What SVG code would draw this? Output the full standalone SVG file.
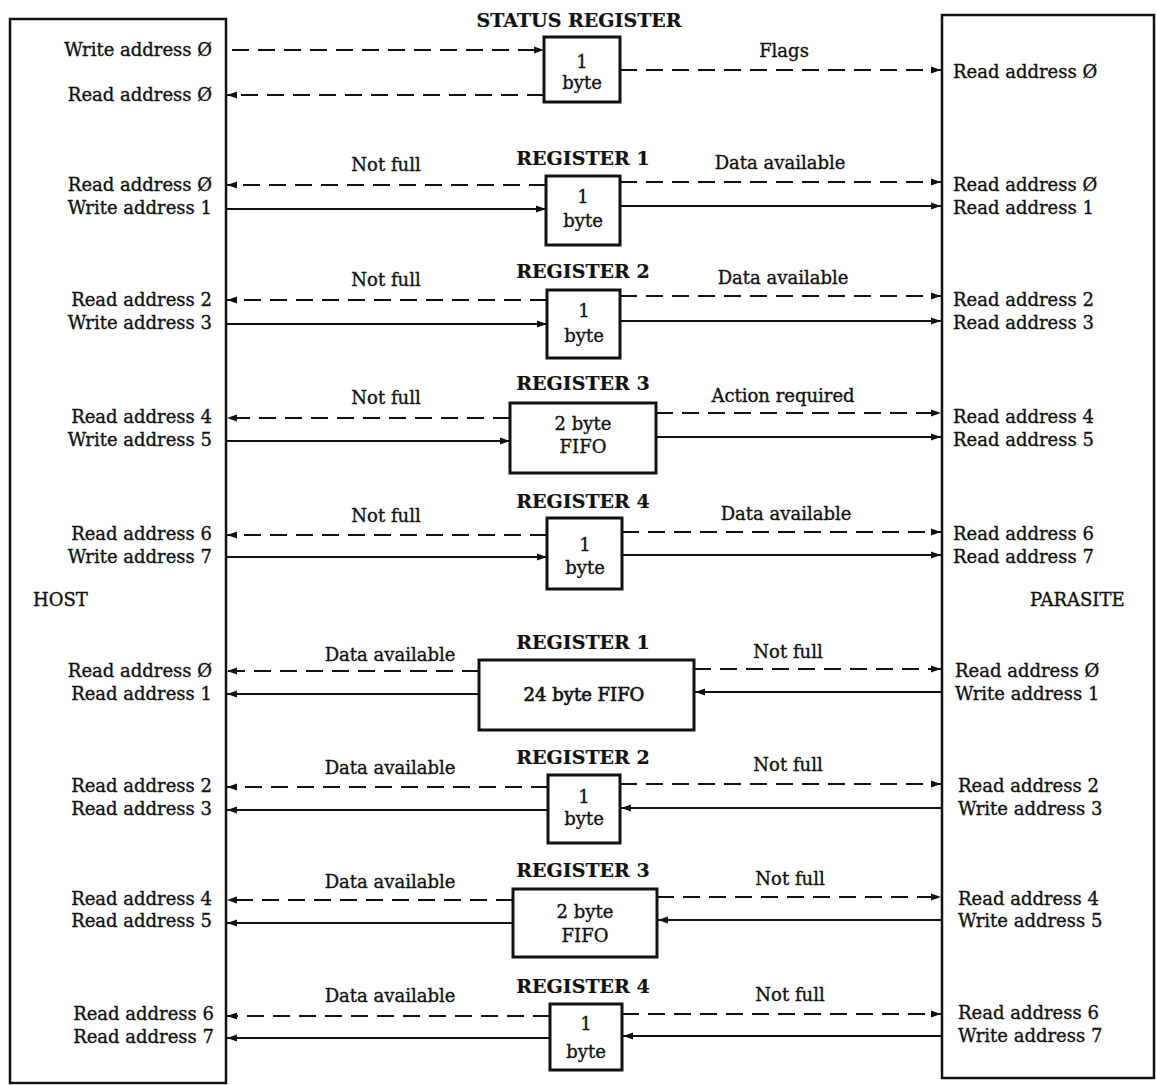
<svg xmlns="http://www.w3.org/2000/svg" width="1157" height="1085" viewBox="0 0 1157 1085">
<style>
text{font-family:"DejaVu Serif","Liberation Serif",serif;font-size:18px;fill:#111;stroke:#111;stroke-width:0.35}
.h{font-weight:bold;text-anchor:middle;font-size:19px;stroke-width:0.2}
.m{text-anchor:middle}
.l{text-anchor:end}
.b{stroke-width:0.7}
.side{fill:none;stroke:#111;stroke-width:2.5}
.box{fill:#fff;stroke:#111;stroke-width:3}
.d{fill:none;stroke:#111;stroke-width:2;stroke-dasharray:17 9}
.s{fill:none;stroke:#111;stroke-width:2}
.a{marker-end:url(#ah)}
</style>
<defs>
<marker id="ah" markerUnits="userSpaceOnUse" markerWidth="11" markerHeight="8" refX="10" refY="4" orient="auto">
<path d="M0,0.5 L10,4 L0,7.5 z" fill="#111"/>
</marker>
</defs>
<rect width="1157" height="1085" fill="#fff"/>

<g id="host">
<rect class="side" x="10" y="19" width="216" height="1064"/>
<text x="33" y="606">HOST</text>
<text class="l" x="212" y="56">Write address Ø</text>
<text class="l" x="212" y="101">Read address Ø</text>
<text class="l" x="212" y="191">Read address Ø</text>
<text class="l" x="212" y="214">Write address 1</text>
<text class="l" x="212" y="306">Read address 2</text>
<text class="l" x="212" y="329">Write address 3</text>
<text class="l" x="212" y="423">Read address 4</text>
<text class="l" x="212" y="446">Write address 5</text>
<text class="l" x="212" y="540">Read address 6</text>
<text class="l" x="212" y="563">Write address 7</text>
<text class="l" x="212" y="677">Read address Ø</text>
<text class="l" x="212" y="700">Read address 1</text>
<text class="l" x="212" y="792">Read address 2</text>
<text class="l" x="212" y="815">Read address 3</text>
<text class="l" x="212" y="905">Read address 4</text>
<text class="l" x="212" y="927">Read address 5</text>
<text class="l" x="214" y="1020">Read address 6</text>
<text class="l" x="214" y="1043">Read address 7</text>
</g>

<g id="parasite">
<rect class="side" x="942" y="15" width="212" height="1063"/>
<text x="1030" y="606">PARASITE</text>
<text x="953" y="78">Read address Ø</text>
<text x="953" y="191">Read address Ø</text>
<text x="953" y="214">Read address 1</text>
<text x="953" y="306">Read address 2</text>
<text x="953" y="329">Read address 3</text>
<text x="953" y="423">Read address 4</text>
<text x="953" y="446">Read address 5</text>
<text x="953" y="540">Read address 6</text>
<text x="953" y="563">Read address 7</text>
<text x="955" y="677">Read address Ø</text>
<text x="955" y="700">Write address 1</text>
<text x="958" y="792">Read address 2</text>
<text x="958" y="815">Write address 3</text>
<text x="958" y="905">Read address 4</text>
<text x="958" y="927">Write address 5</text>
<text x="958" y="1019">Read address 6</text>
<text x="958" y="1042">Write address 7</text>
</g>

<g id="connectors">
<line class="d a" x1="232" y1="50" x2="544" y2="50"/>
<line class="d a" x1="544" y1="95" x2="227" y2="95"/>
<line class="d a" x1="620" y1="70" x2="941" y2="70"/>
<line class="d a" x1="546" y1="185" x2="227" y2="185"/>
<line class="s a" x1="226" y1="209" x2="546" y2="209"/>
<line class="d a" x1="620" y1="182" x2="941" y2="182"/>
<line class="s a" x1="620" y1="206" x2="941" y2="206"/>
<line class="d a" x1="547" y1="300" x2="227" y2="300"/>
<line class="s a" x1="226" y1="324" x2="547" y2="324"/>
<line class="d a" x1="620" y1="296" x2="941" y2="296"/>
<line class="s a" x1="620" y1="321" x2="941" y2="321"/>
<line class="d a" x1="510" y1="418" x2="227" y2="418"/>
<line class="s a" x1="226" y1="441" x2="510" y2="441"/>
<line class="d a" x1="656" y1="413" x2="941" y2="413"/>
<line class="s a" x1="656" y1="437" x2="941" y2="437"/>
<line class="d a" x1="547" y1="535" x2="227" y2="535"/>
<line class="s a" x1="226" y1="557" x2="547" y2="557"/>
<line class="d a" x1="622" y1="532" x2="941" y2="532"/>
<line class="s a" x1="622" y1="555" x2="941" y2="555"/>
<line class="d a" x1="479" y1="671" x2="227" y2="671"/>
<line class="s a" x1="479" y1="694" x2="227" y2="694"/>
<line class="d a" x1="694" y1="669" x2="941" y2="669"/>
<line class="s a" x1="942" y1="692" x2="695" y2="692"/>
<line class="d a" x1="548" y1="787" x2="227" y2="787"/>
<line class="s a" x1="548" y1="810" x2="227" y2="810"/>
<line class="d a" x1="620" y1="784" x2="941" y2="784"/>
<line class="s a" x1="942" y1="808" x2="621" y2="808"/>
<line class="d a" x1="513" y1="900" x2="227" y2="900"/>
<line class="s a" x1="513" y1="923" x2="227" y2="923"/>
<line class="d a" x1="657" y1="897" x2="941" y2="897"/>
<line class="s a" x1="942" y1="920" x2="658" y2="920"/>
<line class="d a" x1="550" y1="1016" x2="227" y2="1016"/>
<line class="s a" x1="550" y1="1038" x2="227" y2="1038"/>
<line class="d a" x1="622" y1="1014" x2="941" y2="1014"/>
<line class="s a" x1="942" y1="1036" x2="623" y2="1036"/>
</g>

<g id="labels">
<text class="m" x="784" y="57">Flags</text>
<text class="m" x="386" y="171">Not full</text>
<text class="m" x="780" y="169">Data available</text>
<text class="m" x="386" y="286">Not full</text>
<text class="m" x="783" y="284">Data available</text>
<text class="m" x="386" y="404">Not full</text>
<text class="m" x="783" y="402">Action required</text>
<text class="m" x="386" y="522">Not full</text>
<text class="m" x="786" y="520">Data available</text>
<text class="m" x="390" y="661">Data available</text>
<text class="m" x="788" y="658">Not full</text>
<text class="m" x="390" y="774">Data available</text>
<text class="m" x="788" y="771">Not full</text>
<text class="m" x="390" y="888">Data available</text>
<text class="m" x="790" y="885">Not full</text>
<text class="m" x="390" y="1002">Data available</text>
<text class="m" x="790" y="1001">Not full</text>
</g>

<g id="status-register">
<text class="h" x="579" y="27">STATUS REGISTER</text>
<rect class="box" x="544" y="37" width="76" height="65"/>
<text class="m" x="582" y="68">1</text>
<text class="m" x="582" y="89">byte</text>
</g>
<g id="register-1-in">
<text class="h" x="583" y="165">REGISTER 1</text>
<rect class="box" x="546" y="176" width="74" height="69"/>
<text class="m" x="583" y="203">1</text>
<text class="m" x="583" y="227">byte</text>
</g>
<g id="register-2-in">
<text class="h" x="583" y="278">REGISTER 2</text>
<rect class="box" x="547" y="290" width="73" height="68"/>
<text class="m" x="584" y="317">1</text>
<text class="m" x="584" y="342">byte</text>
</g>
<g id="register-3-in">
<text class="h" x="583" y="390">REGISTER 3</text>
<rect class="box" x="510" y="403" width="146" height="70"/>
<text class="m" x="583" y="430">2 byte</text>
<text class="m" x="583" y="453">FIFO</text>
</g>
<g id="register-4-in">
<text class="h" x="583" y="508">REGISTER 4</text>
<rect class="box" x="547" y="518" width="75" height="71"/>
<text class="m" x="585" y="551">1</text>
<text class="m" x="585" y="574">byte</text>
</g>
<g id="register-1-out">
<text class="h" x="583" y="649">REGISTER 1</text>
<rect class="box" x="479" y="660" width="215" height="70"/>
<text class="m b" x="584" y="701">24 byte FIFO</text>
</g>
<g id="register-2-out">
<text class="h" x="583" y="764">REGISTER 2</text>
<rect class="box" x="548" y="775" width="72" height="68"/>
<text class="m" x="584" y="803">1</text>
<text class="m" x="584" y="825">byte</text>
</g>
<g id="register-3-out">
<text class="h" x="583" y="877">REGISTER 3</text>
<rect class="box" x="513" y="889" width="144" height="68"/>
<text class="m" x="585" y="918">2 byte</text>
<text class="m" x="585" y="942">FIFO</text>
</g>
<g id="register-4-out">
<text class="h" x="583" y="993">REGISTER 4</text>
<rect class="box" x="550" y="1004" width="72" height="66"/>
<text class="m" x="586" y="1030">1</text>
<text class="m" x="586" y="1058">byte</text>
</g>
</svg>
